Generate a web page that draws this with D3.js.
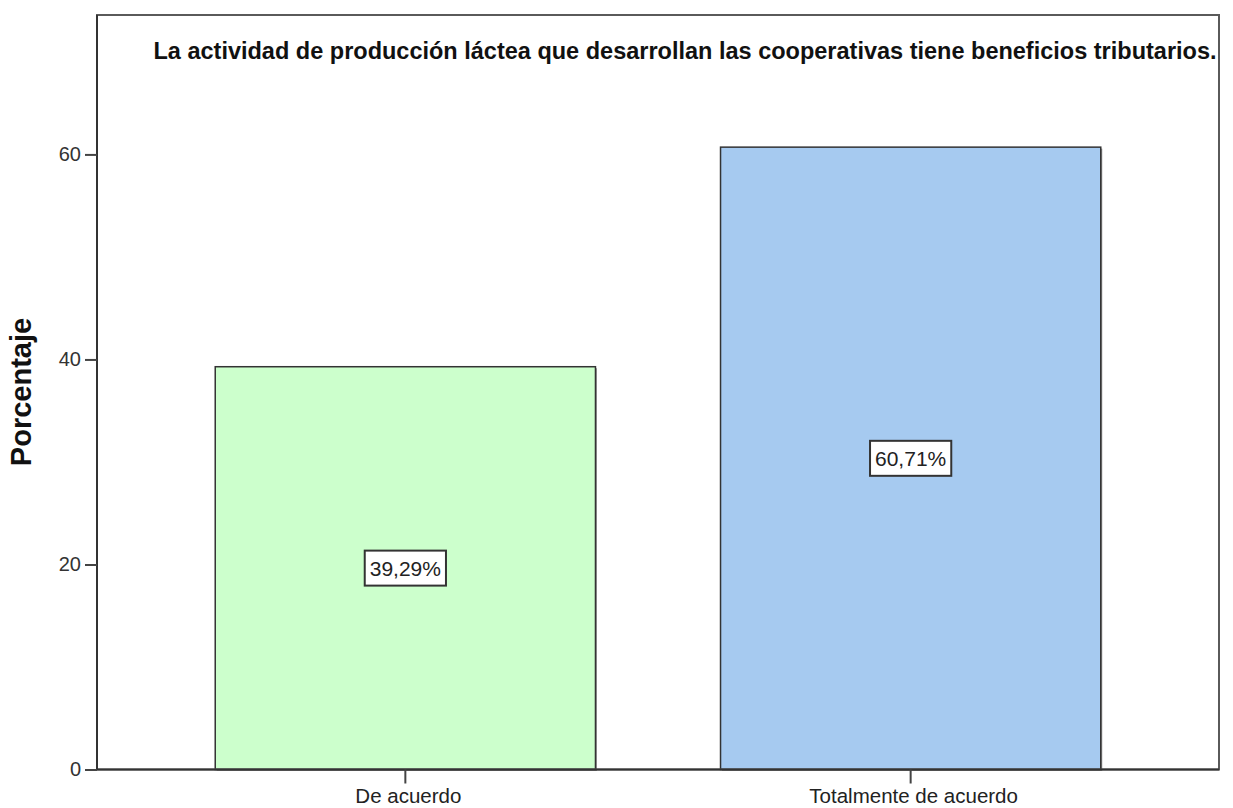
<!DOCTYPE html>
<html>
<head>
<meta charset="utf-8">
<title>Porcentaje</title>
<script src="https://d3js.org/d3.v7.min.js"></script>
<style>
  body { margin: 0; background: #fff; }
  text { font-family: "Liberation Sans", Arial, sans-serif; }
</style>
</head>
<body>
<script>

const categories = ["De acuerdo", "Totalmente de acuerdo"];
const values = [39.29, 60.71];
const valueLabels = ["39,29%", "60,71%"];
const barColors = ["#ccffcc", "#a6caf0"];
const yTicks = [0, 20, 40, 60];
const titleText = "La actividad de producción láctea que desarrollan las cooperativas tiene beneficios tributarios.";

const W = 1233, H = 808;
const plotLeft = 97, plotRight = 1219, plotTop = 15, plotBottom = 769.5;

let svg = d3.select("body").append("svg")
  .attr("width", W).attr("height", H);

let x = d3.scaleBand().domain(categories).range([plotLeft, plotRight])
  .paddingInner(0.2475).paddingOuter(0.234);

let y = d3.scaleLinear().domain([0, 73.6]).range([plotBottom, plotTop]);

// bars
let bars = svg.selectAll("g.bar").data(categories).enter().append("g").attr("class", "bar");

bars.append("rect")
  .attr("x", d => x(d) + 1.5).attr("y", (d, i) => y(values[i]) + 1.5)
  .attr("width", x.bandwidth()).attr("height", (d, i) => plotBottom - y(values[i]))
  .attr("fill", "#999");

bars.append("rect")
  .attr("x", d => x(d)).attr("y", (d, i) => y(values[i]))
  .attr("width", x.bandwidth()).attr("height", (d, i) => plotBottom - y(values[i]))
  .attr("fill", (d, i) => barColors[i])
  .attr("stroke", "#333").attr("stroke-width", 1.5);

// value labels
bars.each(function(d, i) {
  let g = d3.select(this);
  let cx = x(d) + x.bandwidth() / 2;
  let cy = y(values[i] / 2);
  let t = g.append("text")
    .attr("x", cx).attr("y", cy)
    .attr("text-anchor", "middle").attr("dominant-baseline", "central")
    .attr("font-size", 21).attr("fill", "#222")
    .text(valueLabels[i]);
  let bb = t.node().getBBox();
  g.insert("rect", "text")
    .attr("x", bb.x - 5).attr("y", cy - 17.5)
    .attr("width", bb.width + 10).attr("height", 35)
    .attr("fill", "#fff").attr("stroke", "#333").attr("stroke-width", 2);
});

// frame
svg.append("rect")
  .attr("x", plotLeft).attr("y", plotTop)
  .attr("width", plotRight - plotLeft).attr("height", plotBottom - plotTop)
  .attr("fill", "none").attr("stroke", "#5a5a5a").attr("stroke-width", 2);
svg.append("line")
  .attr("x1", plotLeft).attr("x2", plotLeft).attr("y1", plotTop).attr("y2", plotBottom)
  .attr("stroke", "#333").attr("stroke-width", 2);
svg.append("line")
  .attr("x1", plotLeft).attr("x2", plotRight).attr("y1", plotBottom).attr("y2", plotBottom)
  .attr("stroke", "#333").attr("stroke-width", 2);

// y axis
let yAxis = svg.append("g").attr("transform", "translate(" + plotLeft + ",0)")
  .call(d3.axisLeft(y).tickValues(yTicks).tickSize(12).tickPadding(4).tickFormat(d3.format("d")));
yAxis.select(".domain").remove();
yAxis.selectAll(".tick line").attr("stroke", "#444").attr("stroke-width", 2);
yAxis.selectAll(".tick text").attr("font-size", 20).attr("fill", "#333")
  .style("font-family", "Liberation Sans, Arial, sans-serif");

// x axis
let xAxis = svg.append("g").attr("transform", "translate(0," + plotBottom + ")")
  .call(d3.axisBottom(x).tickSize(14).tickFormat(""));
xAxis.select(".domain").remove();
xAxis.selectAll(".tick line").attr("stroke", "#444").attr("stroke-width", 2);

svg.selectAll("text.xlab").data(categories).enter().append("text")
  .attr("class", "xlab")
  .attr("x", d => x(d) + x.bandwidth() / 2 + 3).attr("y", 803)
  .attr("text-anchor", "middle").attr("font-size", 20.5).attr("fill", "#222")
  .text(d => d);

// y title
svg.append("text")
  .attr("transform", "translate(31,392) rotate(-90)")
  .attr("text-anchor", "middle").attr("font-size", 29).attr("font-weight", "bold")
  .attr("fill", "#111")
  .text("Porcentaje");

// chart title
svg.append("text")
  .attr("x", 685).attr("y", 59)
  .attr("text-anchor", "middle").attr("font-size", 23.5).attr("font-weight", "bold")
  .attr("fill", "#111")
  .text(titleText);

</script>
</body>
</html>
